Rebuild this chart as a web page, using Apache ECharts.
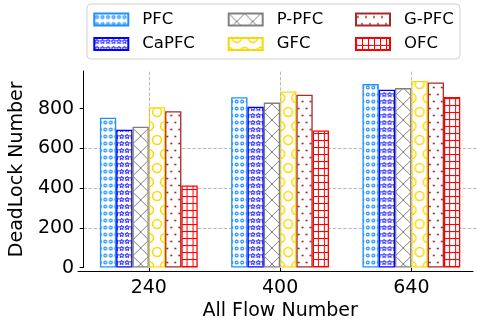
<!DOCTYPE html>
<html><head><meta charset="utf-8">
<script src="https://cdn.jsdelivr.net/npm/echarts@6/dist/echarts.min.js"></script>
<style>html,body{margin:0;padding:0;background:#fff}#c{width:477px;height:326px}</style>
</head><body><div id="c"></div>
<script>
const categories = ['240', '400', '640'];
const PFC   = [755, 858, 924];
const CaPFC = [694, 810, 896];
const P_PFC = [709, 831, 904];
const GFC   = [808, 887, 940];
const G_PFC = [787, 871, 932];
const OFC   = [414, 691, 859];
const yTicks = [0, 200, 400, 600, 800];

function makeCanvas(w, h, draw) {
  const c = document.createElement('canvas');
  c.width = w; c.height = h;
  const g = c.getContext('2d');
  g.fillStyle = '#fff'; g.fillRect(0, 0, w, h);
  draw(g);
  return c;
}
function star(g, cx, cy, R) {
  g.beginPath();
  for (let i = 0; i < 10; i++) {
    const r = i % 2 ? R * 0.45 : R;
    const a = -Math.PI / 2 + i * Math.PI / 5;
    const x = cx + r * Math.cos(a), y = cy + r * Math.sin(a);
    i ? g.lineTo(x, y) : g.moveTo(x, y);
  }
  g.closePath();
}
const cPFC = '#1E90FF', cCa = '#0000FF', cP = '#808080', cG = '#FFD700', cGP = '#A52A2A', cO = '#FF0000';
const tiles = [
  makeCanvas(11, 7, g => { g.strokeStyle = cPFC; g.lineWidth = 1.2;
    [2.75, 8.25].forEach(x => { g.beginPath(); g.arc(x, 3.5, 1.4, 0, 2 * Math.PI); g.stroke(); }); }),
  makeCanvas(11, 7, g => { g.strokeStyle = cCa; g.lineWidth = 0.9;
    [2.75, 8.25].forEach(x => { star(g, x, 3.6, 2.4); g.stroke(); }); }),
  makeCanvas(16, 16, g => { g.strokeStyle = cP; g.lineWidth = 1;
    g.beginPath(); g.moveTo(0, 0); g.lineTo(16, 16); g.moveTo(16, 0); g.lineTo(0, 16); g.stroke(); }),
  makeCanvas(16, 28, g => { g.strokeStyle = cG; g.lineWidth = 1.5;
    [[8,0],[8,28],[0,14],[16,14]].forEach(([x,y]) => { g.beginPath(); g.arc(x, y, 4.4, 0, 2*Math.PI); g.stroke(); }); }),
  makeCanvas(8, 14, g => { g.fillStyle = cGP;
    [[2,3.5],[6,10.5]].forEach(([x,y]) => { g.beginPath(); g.arc(x, y, 1.1, 0, 2*Math.PI); g.fill(); }); }),
  makeCanvas(6, 7, g => { g.strokeStyle = cO; g.lineWidth = 1;
    g.beginPath(); g.moveTo(0.5, 0); g.lineTo(0.5, 7); g.moveTo(0, 0.5); g.lineTo(6, 0.5); g.stroke(); })
];
const edges = [cPFC, cCa, cP, cG, cGP, cO];
const names = ['PFC', 'CaPFC', 'P-PFC', 'GFC', 'G-PFC', 'OFC'];
const values = [PFC, CaPFC, P_PFC, GFC, G_PFC, OFC];
const BW = 16.3;

const FONT = 'DejaVu Sans';
const gridColor = '#bbbbbb';
function legend(ns, left) {
  return { data: ns, orient: 'vertical', left, top: 10.5, padding: 0, itemGap: 6.4,
    icon: 'rect', itemWidth: 34, itemHeight: 12, selectedMode: false,
    textStyle: { fontFamily: FONT, fontSize: 16.5, color: '#000', lineHeight: 18, padding: [0,0,0,9] } };
}
function barSeries(k, data) {
  return { name: names[k], type: 'bar', data, barWidth: BW, barGap: '0%', z: 3,
    itemStyle: { color: { image: tiles[k], repeat: 'repeat' }, borderColor: edges[k], borderWidth: 1.3 } };
}
const chart = echarts.init(document.getElementById('c'), null, { renderer: 'canvas' });
chart.setOption({
  animation: false,
  backgroundColor: '#fff',
  graphic: [{ type: 'rect', shape: { x: 87, y: 4, width: 373, height: 55, r: 4 },
    style: { fill: '#fff', stroke: '#d0d0d0', lineWidth: 1 }, z: -1 }],
  legend: [legend(['PFC', 'CaPFC'], 93.3), legend(['P-PFC', 'GFC'], 227.7), legend(['G-PFC', 'OFC'], 355)],
  grid: [{ left: 78, top: 71, width: 402, height: 200 },
         { left: 78, top: 71, width: 395, height: 200 }],
  xAxis: [{
    type: 'category', data: categories, gridIndex: 0,
    axisLine: { show: false },
    axisTick: { show: true, alignWithLabel: true, length: 3.5, lineStyle: { color: '#000', width: 1 } },
    axisLabel: { fontFamily: FONT, fontSize: 19, color: '#000', margin: 10.5 },
    splitLine: { show: false },
    name: 'All Flow Number', nameLocation: 'middle', nameGap: 33,
    nameTextStyle: { fontFamily: FONT, fontSize: 19, color: '#000' }
  }, {
    type: 'value', gridIndex: 1, min: 0, max: 1,
    axisLine: { show: true, lineStyle: { color: '#000', width: 1 } },
    axisTick: { show: false }, axisLabel: { show: false }, splitLine: { show: false }
  }],
  yAxis: [{
    type: 'value', gridIndex: 0, min: 0, max: 990, interval: 200,
    axisLine: { show: true, lineStyle: { color: '#000', width: 1 } },
    axisTick: { show: true, length: 3.5, customValues: yTicks, lineStyle: { color: '#000', width: 1 } },
    axisLabel: { fontFamily: FONT, fontSize: 19, color: '#000', margin: 9, customValues: yTicks },
    splitLine: { show: true, showMinLine: false, showMaxLine: false, lineStyle: { color: gridColor, type: [3.5, 1.7], width: 1 } },
    name: 'DeadLock Number', nameLocation: 'middle', nameGap: 45,
    nameTextStyle: { fontFamily: FONT, fontSize: 19, color: '#000' }
  }, { type: 'value', gridIndex: 1, show: false, min: 0, max: 1 }],
  series: [
    { type: 'line', data: [], xAxisIndex: 0, yAxisIndex: 0, z: 1, silent: true,
      markLine: { silent: true, symbol: ['none', 'none'], label: { show: false },
        lineStyle: { color: gridColor, type: [3.5, 1.7], width: 1 },
        data: categories.map(c => ({ xAxis: c })) } }
  ].concat(values.map((v, k) => barSeries(k, v)))
});
// align each bar's hatch tile with the bar's centre (style only)
const seriesUpdate = [{}].concat(values.map((v, k) => ({
  data: v.map((val, i) => {
    const cx = chart.convertToPixel({ xAxisIndex: 0 }, categories[i]) + (k - 2.5) * BW;
    const w = tiles[k].width;
    return { value: val, itemStyle: { color: { image: tiles[k], repeat: 'repeat', x: cx - w / 2, y: 0 } } };
  })
})));
chart.setOption({ series: seriesUpdate });
</script></body></html>
